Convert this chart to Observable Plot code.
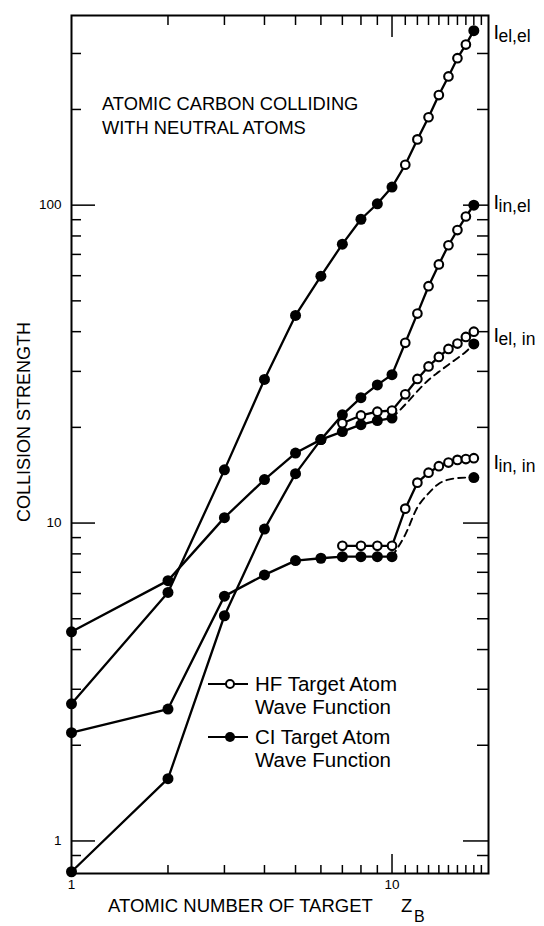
<!DOCTYPE html>
<html><head><meta charset="utf-8">
<script src="https://cdn.jsdelivr.net/npm/d3@7"></script>
<script src="https://cdn.jsdelivr.net/npm/@observablehq/plot@0.6"></script>
<style>
html,body{margin:0;padding:0;background:#fff;}
#chart{position:relative;width:544px;height:926px;}
</style></head><body><div id="chart"></div>
<script>
// ---- data ----
const Z_CI = [1, 2, 3, 4, 5, 6, 7, 8, 9, 10];
const Z_HF_EL = [11, 12, 13, 14, 15, 16, 17];
const Z_HF_IN = [7, 8, 9, 10, 11, 12, 13, 14, 15, 16, 17, 18];
const Z_DASH = [10, 11, 12, 13, 14, 15, 16, 17, 18];
const Z_END = 18;

const elel_CI = [2.70, 6.05, 14.7, 28.3, 45.0, 59.8, 75.4, 90.3, 101, 114];
const elel_HF = [134, 161, 189, 222, 254, 290, 320];
const elel_end = 354;

const inel_CI = [0.80, 1.57, 5.11, 9.57, 14.3, 18.3, 21.9, 24.8, 27.2, 29.3];
const inel_HF = [36.9, 45.6, 55.6, 65.1, 74.8, 83.5, 92.1];
const inel_end = 100;

const elin_CI = [4.55, 6.59, 10.4, 13.7, 16.6, 18.3, 19.4, 20.4, 21.0, 21.4];
const elin_HF = [20.6, 21.8, 22.4, 22.6, 25.4, 28.4, 31.1, 33.3, 35.3, 36.7, 38.5, 40.0];
const elin_end = 36.6;
const elin_dash = [21.4, 23.6, 26.0, 28.2, 29.9, 31.5, 33.0, 34.6, 36.6];

const inin_CI = [2.19, 2.60, 5.89, 6.87, 7.62, 7.75, 7.84, 7.84, 7.84, 7.84];
const inin_HF = [8.48, 8.48, 8.48, 8.48, 11.1, 13.4, 14.4, 15.1, 15.5, 15.8, 15.9, 16.0];
const inin_end = 13.9;
const inin_dash = [7.84, 9.2, 11.2, 12.4, 13.3, 13.7, 13.85, 13.9, 13.9];

const seriesNames = ["el,el", "in,el", "el, in", "in, in"];
const labelY = [334, 97.6, 37.0, 14.75];

const yLabelTicks = [1, 10, 100];
const yMinorTicks = [0.9, 2, 3, 4, 5, 6, 7, 8, 9, 20, 30, 40, 50, 60, 70, 80, 90, 200, 300];
const xLabelTicks = [1, 10];
const xMinorTicks = [2, 3, 4, 5, 6, 7, 8, 9, 11, 12, 13, 14, 15, 16, 17, 18, 19];
const xMajorTicks = [10];

// ---- tidy tables ----
const zip = (zs, vs, key) => zs.map((z, i) => ({z, v: vs[i], key}));
const solid = [
  ...zip([...Z_CI, ...Z_HF_EL, Z_END], [...elel_CI, ...elel_HF, elel_end], "elel"),
  ...zip([...Z_CI, ...Z_HF_EL, Z_END], [...inel_CI, ...inel_HF, inel_end], "inel"),
  ...zip(Z_CI, elin_CI, "elinCI"),
  ...zip(Z_HF_IN, elin_HF, "elinHF"),
  ...zip(Z_CI, inin_CI, "ininCI"),
  ...zip(Z_HF_IN, inin_HF, "ininHF")
];
const dashed = [...zip(Z_DASH, elin_dash, "elin"), ...zip(Z_DASH, inin_dash, "inin")];
const filled = [
  ...zip(Z_CI, elel_CI, "a"), ...zip(Z_CI, inel_CI, "b"), ...zip(Z_CI, elin_CI, "c"), ...zip(Z_CI, inin_CI, "d"),
  ...zip([Z_END, Z_END, Z_END, Z_END], [elel_end, inel_end, elin_end, inin_end], "e")
];
const open = [
  ...zip(Z_HF_EL, elel_HF, "a"), ...zip(Z_HF_EL, inel_HF, "b"),
  ...zip(Z_HF_IN, elin_HF, "c"), ...zip(Z_HF_IN, inin_HF, "d")
];
const labels = seriesNames.map((s, i) => ({s, y: labelY[i]}));

const W = 544, H = 926, mL = 71, mR = 56, mT = 15, mB = 53;
const plotW = W - mL - mR, plotH = H - mT - mB;
const FONT = "'Liberation Sans', Arial, Helvetica, sans-serif";

const chart = Plot.plot({
  width: W, height: H,
  marginLeft: mL, marginRight: mR, marginTop: mT, marginBottom: mB,
  x: {type: "log", domain: [1, 20], axis: null},
  y: {type: "log", domain: [0.79, 395], axis: null},
  style: {fontFamily: FONT, background: "white", color: "black", overflow: "visible"},
  marks: [
    // inward ticks
    Plot.tickY(yMinorTicks, {y: d => d, insetRight: plotW - 10, strokeWidth: 1.5}),
    Plot.tickY(yLabelTicks, {y: d => d, insetRight: plotW - 24, strokeWidth: 1.5}),
    Plot.tickY(yMinorTicks, {y: d => d, insetLeft: plotW - 11, strokeWidth: 1.5}),
    Plot.tickY(yLabelTicks, {y: d => d, insetLeft: plotW - 25, strokeWidth: 1.5}),
    Plot.tickX(xMinorTicks, {x: d => d, insetTop: plotH - 8, strokeWidth: 1.5}),
    Plot.tickX(xMajorTicks, {x: d => d, insetTop: plotH - 19, strokeWidth: 1.5}),
    Plot.tickX(xMinorTicks, {x: d => d, insetBottom: plotH - 10, strokeWidth: 1.5}),
    Plot.tickX(xMajorTicks, {x: d => d, insetBottom: plotH - 22, strokeWidth: 1.5}),
    Plot.frame({strokeWidth: 2}),
    // tick labels
    Plot.text(yLabelTicks, {x: () => 1, y: d => d, text: d => String(d), dx: -10, textAnchor: "end", fontSize: 13.5}),
    Plot.text(xLabelTicks, {x: d => d, frameAnchor: "bottom", text: d => String(d), dy: 6, lineAnchor: "top", fontSize: 13.5}),
    // data
    Plot.line(solid, {x: "z", y: "v", z: "key", stroke: "black", strokeWidth: 2.3}),
    Plot.line(dashed, {x: "z", y: "v", z: "key", stroke: "black", strokeWidth: 1.9, strokeDasharray: "7,5", curve: "monotone-x"}),
    Plot.dot(filled, {x: "z", y: "v", r: 5.5, fill: "black", stroke: "none"}),
    Plot.dot(open, {x: "z", y: "v", r: 4.3, fill: "white", stroke: "black", strokeWidth: 2.1}),
    // series labels
    Plot.text(labels, {x: () => 20, y: "y", text: () => "I", dx: 5, textAnchor: "start", lineAnchor: "bottom", fontSize: 20}),
    Plot.text(labels, {x: () => 20, y: "y", text: "s", dx: 10, dy: 3, textAnchor: "start", lineAnchor: "bottom", fontSize: 17.5})
  ]
});
document.getElementById("chart").appendChild(chart);

// ---- static annotations (title, axis titles, legend) ----
const svg = d3.select(chart);
const ann = svg.append("g").attr("font-family", FONT).attr("fill", "black").attr("text-anchor", "start");
ann.append("text").attr("x", 102).attr("y", 110).attr("font-size", 18.3).text("ATOMIC CARBON COLLIDING");
ann.append("text").attr("x", 102).attr("y", 133.5).attr("font-size", 18.3).text("WITH NEUTRAL ATOMS");
ann.append("text").attr("transform", "translate(30,422) rotate(-90)").attr("text-anchor", "middle")
  .attr("font-size", 18).text("COLLISION STRENGTH");
ann.append("text").attr("x", 108).attr("y", 912).attr("font-size", 18.5).text("ATOMIC NUMBER OF TARGET");
ann.append("text").attr("x", 401).attr("y", 912).attr("font-size", 18.5).text("Z");
ann.append("text").attr("x", 414).attr("y", 922).attr("font-size", 16).text("B");

const legendItems = [
  {y: 684, open: true, l1: "HF Target Atom", l2: "Wave Function"},
  {y: 737, open: false, l1: "CI Target Atom", l2: "Wave Function"}
];
legendItems.forEach(it => {
  const g = ann.append("g");
  g.append("line").attr("x1", 208).attr("x2", 248).attr("y1", it.y).attr("y2", it.y)
    .attr("stroke", "black").attr("stroke-width", 2.2);
  g.append("circle").attr("cx", 230).attr("cy", it.y).attr("r", it.open ? 4 : 5)
    .attr("fill", it.open ? "white" : "black").attr("stroke", "black").attr("stroke-width", it.open ? 2 : 0);
  g.append("text").attr("x", 255).attr("y", it.y + 7).attr("font-size", 20.5).text(it.l1);
  g.append("text").attr("x", 255).attr("y", it.y + 29.5).attr("font-size", 20.5).text(it.l2);
});
</script></body></html>
